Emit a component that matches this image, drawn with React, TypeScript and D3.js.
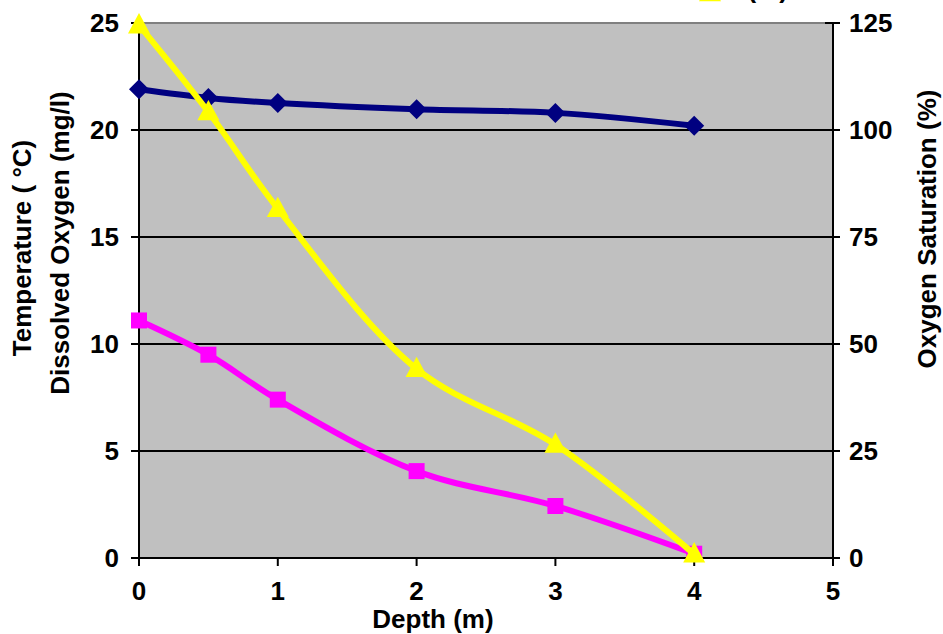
import React from "react";
import * as d3 from "d3";

const depth = [0, 0.5, 1, 2, 3, 4];
const temperature = [21.9, 21.5, 21.26, 20.97, 20.8, 20.2];
const dissolvedOxygen = [11.1, 9.5, 7.4, 4.06, 2.43, 0.2];
const saturation = [124.5, 104.2, 81.6, 44.2, 26.5, 0.9];
const xTicks = [0, 1, 2, 3, 4, 5];
const leftTicks = [0, 5, 10, 15, 20, 25];
const rightTicks = [0, 25, 50, 75, 100, 125];

const W = 943, H = 634;
const L = 139, R = 833, T = 23, B = 558;
const FONT = "'Liberation Sans', Arial, sans-serif";
const FS = 26;

export default function App() {
  const x = d3.scaleLinear().domain([0, 5]).range([L, R]);
  const yL = d3.scaleLinear().domain([0, 25]).range([B, T]);
  const yR = d3.scaleLinear().domain([0, 125]).range([B, T]);
  const curve = d3.curveCatmullRom.alpha(0.5);

  const lineL = d3.line<number>().x((_, i) => x(depth[i])).y((d) => yL(d)).curve(curve);
  const lineR = d3.line<number>().x((_, i) => x(depth[i])).y((d) => yR(d)).curve(curve);

  const diamond = (cx: number, cy: number, r: number) =>
    `M${cx},${cy - r}L${cx + r},${cy}L${cx},${cy + r}L${cx - r},${cy}Z`;
  const tri = (cx: number, cy: number, r: number) =>
    `M${cx},${cy - r * 1.1}L${cx + r},${cy + r * 0.75}L${cx - r},${cy + r * 0.75}Z`;

  return (
    <svg width={W} height={H} style={{ position: "absolute", left: 0, top: 0, background: "#fff" }}
      fontFamily={FONT} fontWeight="bold">
      {/* legend entry cut off at the top edge, as in the reference */}
      <path d={tri(710, -7, 11)} fill="#FFFF00" />
      <text x={788} y={-2} fontSize={FS} textAnchor="end" fill="#000">(%)</text>

      <rect x={L} y={T} width={R - L} height={B - T} fill="#C0C0C0" />
      <line x1={L} x2={R} y1={T} y2={T} stroke="#808080" strokeWidth={2} />
      {leftTicks.filter((t) => t > 0 && t < 25).map((t) => (
        <line key={t} x1={L} x2={R} y1={yL(t)} y2={yL(t)} stroke="#000" strokeWidth={2} />
      ))}
      <line x1={L} x2={L} y1={T} y2={B} stroke="#000" strokeWidth={2} />
      <line x1={R} x2={R} y1={T} y2={B} stroke="#000" strokeWidth={2} />
      <line x1={L} x2={R} y1={B} y2={B} stroke="#000" strokeWidth={2} />

      {leftTicks.map((t) => (
        <g key={t}>
          <line x1={L - 8} x2={L} y1={yL(t)} y2={yL(t)} stroke="#000" strokeWidth={2} />
          <text x={L - 20} y={yL(t)} dy="0.36em" textAnchor="end" fontSize={FS}>{t}</text>
        </g>
      ))}
      {rightTicks.map((t) => (
        <g key={t}>
          <line x1={R - 8} x2={R + 7} y1={yR(t)} y2={yR(t)} stroke="#000" strokeWidth={2} />
          <text x={R + 16} y={yR(t)} dy="0.36em" textAnchor="start" fontSize={FS}>{t}</text>
        </g>
      ))}
      {xTicks.map((t) => (
        <g key={t}>
          <line x1={x(t)} x2={x(t)} y1={B} y2={B + 8} stroke="#000" strokeWidth={2} />
          <text x={x(t)} y={600} textAnchor="middle" fontSize={FS}>{t}</text>
        </g>
      ))}

      <text x={433} y={628} textAnchor="middle" fontSize={FS}>Depth (m)</text>
      <text transform="translate(31,248) rotate(-90)" textAnchor="middle" fontSize={FS}>Temperature ( °C)</text>
      <text transform="translate(69,243) rotate(-90)" textAnchor="middle" fontSize={FS}>Dissolved Oxygen (mg/l)</text>
      <text transform="translate(936,229) rotate(-90)" textAnchor="middle" fontSize={FS}>Oxygen Saturation (%)</text>

      <path d={lineL(temperature) || ""} fill="none" stroke="#000080" strokeWidth={6} />
      {temperature.map((v, i) => (
        <path key={i} d={diamond(x(depth[i]), yL(v), 10)} fill="#000080" />
      ))}
      <path d={lineL(dissolvedOxygen) || ""} fill="none" stroke="#FF00FF" strokeWidth={6} />
      {dissolvedOxygen.map((v, i) => (
        <rect key={i} x={x(depth[i]) - 8} y={yL(v) - 8} width={16} height={16} fill="#FF00FF" />
      ))}
      <path d={lineR(saturation) || ""} fill="none" stroke="#FFFF00" strokeWidth={6} />
      {saturation.map((v, i) => (
        <path key={i} d={tri(x(depth[i]), yR(v), 11)} fill="#FFFF00" />
      ))}
    </svg>
  );
}
